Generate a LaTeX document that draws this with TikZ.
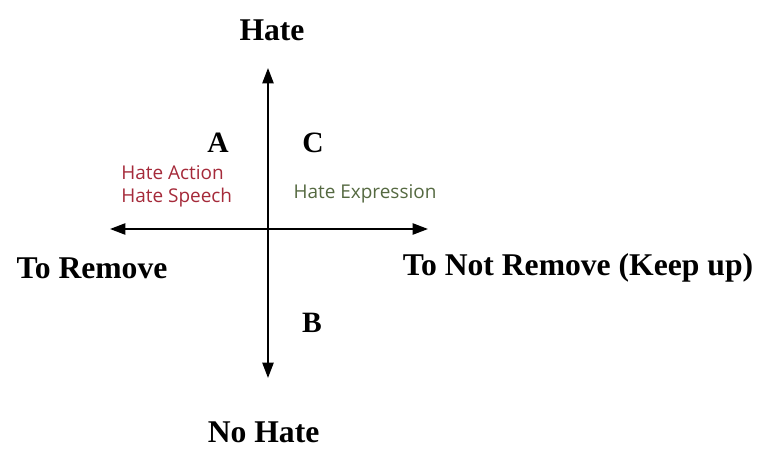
\documentclass[tikz,border=0pt]{standalone}
\usepackage{fontspec}
\setmainfont{Liberation Serif}
\newfontfamily\quadsans{Open Sans}
\usetikzlibrary{arrows.meta}

\definecolor{removered}{RGB}{165,42,58}
\definecolor{keepgreen}{RGB}{85,105,65}

\begin{document}
\begin{tikzpicture}[
        axis/.style={
            draw,
            line width=1.4pt,
            {Triangle[length=11pt,width=8pt]}-{Triangle[length=11pt,width=8pt]}
        },
        pole/.style={
            font=\fontsize{22.5}{27}\selectfont\bfseries,
            inner sep=0pt
        },
        quadrant/.style={
            font=\fontsize{21}{25}\selectfont\bfseries,
            inner sep=0pt
        },
        example/.style={
            font=\quadsans\fontsize{13.5}{16.4}\selectfont,
            align=left,
            inner sep=0pt
        }
    ]

    \useasboundingbox (0,0) rectangle (19.075,11.225);

    % axis ends
    \coordinate (origin) at (6.7,5.5);
    \coordinate (up) at (6.7,9.525);
    \coordinate (down) at (6.7,1.775);
    \coordinate (left) at (2.75,5.5);
    \coordinate (right) at (10.7,5.5);

    \draw[axis] (down) -- (up);
    \draw[axis] (left) -- (right);

    \node[pole] (hate) at (6.8,10.475) {Hate};
    \node[pole] (nohate) at (6.59,0.42) {No Hate};
    \node[pole] (remove) at (2.3,4.525) {To Remove};
    \node[pole] (keep) at (14.45,4.525) {To Not Remove (Keep up)};

    \node[quadrant] (qa) at (5.45,7.65) {A};
    \node[quadrant] (qc) at (7.825,7.65) {C};
    \node[quadrant] (qb) at (7.8,3.15) {B};

    \node[example, text=removered, anchor=west] (action) at (3.025,6.575) {Hate Action\\Hate Speech};
    \node[example, text=keepgreen] (expression) at (9.125,6.375) {Hate Expression};

\end{tikzpicture}
\end{document}
